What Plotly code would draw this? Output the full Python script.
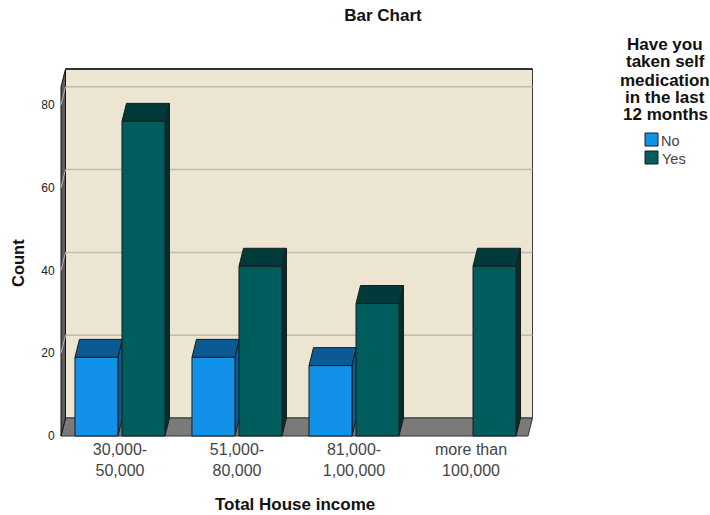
import plotly.graph_objects as go

# Household income bands and self-medication counts
income_labels = ["30,000-<br>50,000", "51,000-<br>80,000", "81,000-<br>1,00,000", "more than<br>100,000"]
no_counts = [19, 19, 17, None]
yes_counts = [76, 41, 32, 41]
y_ticks = [0, 20, 40, 60, 80]
positions = [0, 1, 2, 3]
legend_title_lines = ["Have you", "taken self", "medication", "in the last", "12 months"]
legend_labels = ["No", "Yes"]

# Oblique projection: how far the back plane sits from the front plane, in data units
UNIT_X = 117
DEPTH_X = 4.5 / UNIT_X
DEPTH_Y = 18 / 4.14
TOP_FRONT = 84.3

BAR_GAP = 1 - 94 / UNIT_X
BAR_GROUP_GAP = 4 / 47
SLOT = (1 - BAR_GAP) / 2
HALF_BAR = SLOT * (1 - BAR_GROUP_GAP) / 2

X0, X1 = -0.504, 3.487
EDGE = "#1c1c1c"
NO_FACE, NO_TOP, NO_SIDE = "#1192E8", "#0B5A94", "#0A5C99"
YES_FACE, YES_TOP, YES_SIDE = "#005D5D", "#003A3A", "#002F2F"
WALL = "#EBE5D1"
FLOOR = "#7A7A7A"
GRID = "#BEBCB2"

# Plot box in page pixels, used to place the text and key outside the axes
WIDTH, HEIGHT = 710, 515
LEFT, RIGHT, TOP, BOTTOM = 60, 176, 68, 77


def px_x(px):
    return (px - LEFT) / (WIDTH - LEFT - RIGHT)


def px_y(py):
    return 1 - (py - TOP) / (HEIGHT - TOP - BOTTOM)


def polygon(points, fill, layer, line=EDGE, width=1):
    path = "M" + " L".join(f"{x},{y}" for x, y in points) + " Z"
    return dict(type="path", path=path, xref="x", yref="y", fillcolor=fill,
                line=dict(color=line, width=width), layer=layer)


def segment(x0, y0, x1, y1, color, width=1.5, layer="below"):
    return dict(type="line", x0=x0, y0=y0, x1=x1, y1=y1, xref="x", yref="y",
                line=dict(color=color, width=width), layer=layer)


def label(text, px, py, size, color="#111111", angle=0):
    return dict(text=text, xref="paper", yref="paper", x=px_x(px), y=px_y(py),
                xanchor="center", yanchor="middle", showarrow=False, textangle=angle,
                font=dict(size=size, color=color))


shapes = [
    # back wall, floor and left wall
    polygon([(X0 + DEPTH_X, DEPTH_Y), (X1 + DEPTH_X, DEPTH_Y),
             (X1 + DEPTH_X, TOP_FRONT + DEPTH_Y), (X0 + DEPTH_X, TOP_FRONT + DEPTH_Y)],
            WALL, "below", line="#3a3a3a"),
    polygon([(X0, 0), (X1, 0), (X1 + DEPTH_X, DEPTH_Y), (X0 + DEPTH_X, DEPTH_Y)],
            FLOOR, "below", line="#333333"),
    polygon([(X0, 0), (X0 + DEPTH_X, DEPTH_Y), (X0 + DEPTH_X, TOP_FRONT + DEPTH_Y), (X0, TOP_FRONT)],
            "#5c5c5c", "below", line="#111111"),
]
shapes.append(segment(X0 + DEPTH_X, TOP_FRONT + DEPTH_Y, X1 + DEPTH_X, TOP_FRONT + DEPTH_Y, "#111111", 1.5))

# Gridlines run along the back wall and step down the left wall
for tick in y_ticks[1:]:
    shapes.append(segment(X0 + DEPTH_X, tick + DEPTH_Y, X1 + DEPTH_X, tick + DEPTH_Y, GRID))
    shapes.append(segment(X0, tick, X0 + DEPTH_X, tick + DEPTH_Y, "#B5B5B5", 1))

# Top and side faces of each bar, placed underneath the bar fronts
for values, offset, top, side in [(no_counts, -SLOT / 2, NO_TOP, NO_SIDE),
                                  (yes_counts, SLOT / 2, YES_TOP, YES_SIDE)]:
    for pos, value in zip(positions, values):
        if value is None:
            continue
        left = pos + offset - HALF_BAR
        right = pos + offset + HALF_BAR
        shapes.append(polygon([(left, value), (right, value),
                               (right + DEPTH_X, value + DEPTH_Y), (left + DEPTH_X, value + DEPTH_Y)],
                              top, "between"))
        shapes.append(polygon([(right, 0), (right + DEPTH_X, DEPTH_Y),
                               (right + DEPTH_X, value + DEPTH_Y), (right, value)],
                              side, "between"))

# Key swatches sit to the right of the plot box, beneath their heading
for name, color, top_px in zip(legend_labels, [NO_FACE, YES_FACE], [133, 151]):
    shapes.append(dict(type="rect", xref="paper", yref="paper", x0=px_x(645), x1=px_x(658),
                       y0=px_y(top_px), y1=px_y(top_px + 13), fillcolor=color,
                       line=dict(color=EDGE, width=1), layer="above"))

annotations = [
    label("<b>Total House income</b>", 295, 504, 17),
    label("<b>Count</b>", 18, 263, 16.5, angle=-90),
]
for line, py in zip(legend_title_lines, [45, 62, 80, 97, 114]):
    annotations.append(label(f"<b>{line}</b>", 665, py, 17))
for name, px, py in zip(legend_labels, [670, 674], [141, 159]):
    annotations.append(label(name, px, py, 14.5, color="#444444"))

fig = go.Figure()
fig.add_bar(name=legend_labels[0], x=positions, y=no_counts,
            marker=dict(color=NO_FACE, line=dict(color=EDGE, width=1)))
fig.add_bar(name=legend_labels[1], x=positions, y=yes_counts,
            marker=dict(color=YES_FACE, line=dict(color=EDGE, width=1)))

fig.update_layout(
    width=WIDTH, height=HEIGHT, autosize=False,
    margin=dict(l=LEFT, r=RIGHT, t=TOP, b=BOTTOM),
    paper_bgcolor="white", plot_bgcolor="white", showlegend=False,
    font=dict(family="Liberation Sans, Arial, sans-serif", color="#222222"),
    barmode="group", bargap=BAR_GAP, bargroupgap=BAR_GROUP_GAP,
    shapes=shapes, annotations=annotations,
    title=dict(text="<b>Bar Chart</b>", x=383 / WIDTH, xanchor="center", y=1 - 15 / HEIGHT, yanchor="middle",
               font=dict(size=17, color="#111111")),
    xaxis=dict(
        range=[X0 - 1 / UNIT_X, X1 + 6 / UNIT_X], tickmode="array", tickvals=positions, ticktext=income_labels,
        showgrid=False, zeroline=False, showline=False, ticks="",
        tickfont=dict(size=16, color="#444444"),
    ),
    yaxis=dict(
        range=[-0.48, 88.89], tickmode="array", tickvals=y_ticks,
        showgrid=False, zeroline=False, showline=False, ticks="outside", ticklen=2,
        tickcolor="rgba(0,0,0,0)", tickfont=dict(size=12, color="#222222"),
    ),
)

fig.write_html("out.html")
